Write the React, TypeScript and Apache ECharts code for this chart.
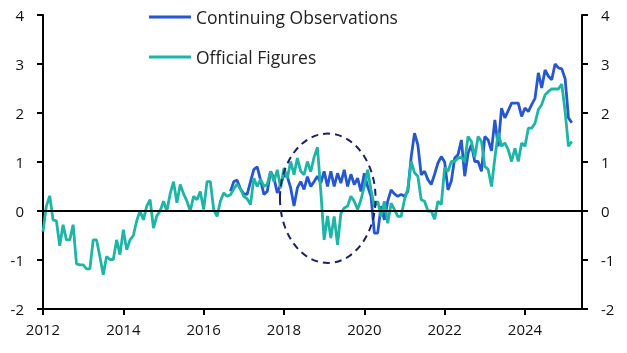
import React, { useEffect, useRef } from 'react';
import * as echarts from 'echarts';

// Monthly data, first value = Jan 2012
const startYear = 2012;

const officialFigures: number[] = [
  -0.42, 0.1, 0.31, -0.18, -0.2, -0.71, -0.28, -0.59, -0.59, -0.28,
  -1.08, -1.1, -1.1, -1.18, -1.18, -0.59, -0.59, -0.93, -1.3, -0.93,
  -0.99, -0.99, -0.59, -0.89, -0.38, -0.79, -0.59, -0.5, -0.2, 0,
  -0.18, 0.1, 0.23, -0.35, -0.1, 0, 0.2, 0, 0.35, 0.6,
  0.17, 0.54, 0.35, 0.2, 0, 0.3, 0.23, 0.4, 0.03, 0.6,
  0.6, 0.03, -0.11, 0.2, 0.37, 0.3, 0.33, 0.45, 0.55, 0.45,
  0.3, 0.25, 0.13, 0.67, 0.5, 0.65, 0.5, 0.55, 0.81, 0.6,
  0.84, 0.47, 0.88, 0.67, 1.01, 0.74, 1.08, 0.81, 0.74, 1.01,
  0.8, 1.1, 1.3, 0.4, -0.59, -0.1, -0.55, -0.11, -0.69, -0.05,
  0.06, 0.1, 0.3, 0.2, 0.03, 0.23, 0.5, 0.84, 0.43, 0.09,
  0.2, -0.11, 0.2, -0.25, 0.16, 0.03, -0.11, -0.11, 0.23, 0.45,
  1.01, 0.78, 0.71, 0.23, 0.2, 0, 0, -0.17, 0.2, 0.13,
  0.88, 0.81, 1.01, 1.01, 1.08, 1.1, 1.01, 1.52, 1.42, 1.1,
  1.52, 1.42, 0.91, 0.85, 0.5, 1.08, 1.6, 1.32, 1.39, 1.25,
  1.01, 1.28, 1.01, 1.39, 1.32, 1.69, 1.69, 1.79, 2.07, 2.17,
  2.37, 2.44, 2.49, 2.49, 2.49, 2.59, 2.03, 1.32, 1.42,
];

// Continuing observations begin in Sep 2016 (month index 56)
const continuingStartIndex = 56;
const continuingObservations: number[] = [
  0.4, 0.6, 0.63, 0.45,
  0.35, 0.34, 0.6, 0.85, 0.9, 0.63, 0.34, 0.4, 0.81, 0.67,
  0.37, 0.54, 0.74, 0.7, 0.47, 0.1, 0.47, 0.6, 0.44, 0.7,
  0.5, 0.6, 0.71, 0.57, 0.81, 0.5, 0.81, 0.5, 0.77, 0.57,
  0.84, 0.5, 0.75, 0.54, 0.67, 0.4, 0.77, 0.5, 0.3, -0.45,
  -0.45, 0.1, -0.18, 0.2, 0.43, 0.35, 0.3, 0.34, 0.3, 0.4,
  1.1, 1.59, 1.35, 0.74, 0.81, 0.64, 0.54, 0.75, 0.98, 1.11,
  1.0, 0.43, 0.61, 1.08, 1.15, 1.45, 0.71, 1.18, 1.35, 1.01,
  1.01, 0.81, 1.52, 1.45, 1.23, 1.86, 1.32, 2.1, 1.9, 2.05,
  2.2, 2.2, 2.2, 1.93, 2.1, 2.03, 2.17, 2.3, 2.82, 2.51,
  2.88, 2.75, 2.68, 3.0, 2.92, 2.9, 2.7, 1.9, 1.8,
];

const seriesNames = ['Continuing Observations', 'Official Figures'];
const xMin = 2012;
const xMax = 2025.42;
const yMin = -2;
const yMax = 4;

// Annotation ellipse in data units (centre year, centre value, half-width years, half-height value)
const ellipseCenter = [2019.09, 0.26];
const ellipseRadius = [1.19, 1.32];

const BLUE = '#2457d0';
const TEAL = '#1cb5a6';
const FONT = "'Open Sans', sans-serif";

export default function App() {
  const ref = useRef<HTMLDivElement>(null);
  useEffect(() => {
    const chart = echarts.init(ref.current!, null, { renderer: 'svg' });
    const toX = (i: number) => startYear + i / 12;
    const tealData = officialFigures.map((v, i) => [toX(i), v]);
    const blueData = continuingObservations.map((v, i) => [toX(i + continuingStartIndex), v]);
    const axisLine = { show: true, onZero: false, lineStyle: { color: '#000', width: 2 } };
    const axisTick = { show: true, length: 6, lineStyle: { color: '#000', width: 2 } };
    const yLabel = { fontSize: 15, color: '#111', fontFamily: FONT, margin: 19 };
    const legendText = { fontSize: 17.5, color: '#222', fontFamily: FONT };
    chart.setOption({
      animation: false,
      grid: { left: 43, right: 45, top: 15, bottom: 44 },
      legend: [
        {
          data: [seriesNames[0]], left: 144, top: 3, itemWidth: 42, itemHeight: 3, itemGap: 5,
          icon: 'rect', textStyle: legendText,
        },
        {
          data: [seriesNames[1]], left: 144, top: 43, itemWidth: 42, itemHeight: 3, itemGap: 5,
          icon: 'rect', textStyle: legendText,
        },
      ],
      xAxis: {
        type: 'value', min: xMin, max: xMax, interval: 2,
        axisLine, axisTick,
        splitLine: { show: false },
        axisLabel: {
          fontSize: 15, color: '#111', fontFamily: FONT, margin: 12, showMaxLabel: false,
          formatter: (v: number) => (Number.isInteger(v) && v % 2 === 0 ? String(v) : ''),
        },
      },
      yAxis: [
        { type: 'value', min: yMin, max: yMax, interval: 1, position: 'left', axisLine, axisTick, splitLine: { show: false }, axisLabel: yLabel },
        { type: 'value', min: yMin, max: yMax, interval: 1, position: 'right', axisLine, axisTick, splitLine: { show: false }, axisLabel: yLabel },
      ],
      series: [
        {
          name: seriesNames[0], type: 'line', data: blueData, showSymbol: false, symbol: 'none',
          lineStyle: { color: BLUE, width: 2.8 }, itemStyle: { color: BLUE },
        },
        {
          name: seriesNames[1], type: 'line', data: tealData, showSymbol: false, symbol: 'none',
          lineStyle: { color: TEAL, width: 2.8 }, itemStyle: { color: TEAL },
          markLine: {
            silent: true, symbol: ['none', 'none'], label: { show: false },
            lineStyle: { color: '#000', width: 2, type: 'solid' },
            data: [{ yAxis: 0 }],
          },
        },
      ],
    });
    const c = chart.convertToPixel({ xAxisIndex: 0, yAxisIndex: 0 }, ellipseCenter) as number[];
    const e = chart.convertToPixel({ xAxisIndex: 0, yAxisIndex: 0 }, [ellipseCenter[0] + ellipseRadius[0], ellipseCenter[1] + ellipseRadius[1]]) as number[];
    chart.setOption({
      graphic: [
        {
          type: 'ellipse', z: 100, silent: true,
          shape: { cx: c[0], cy: c[1], rx: Math.abs(e[0] - c[0]), ry: Math.abs(c[1] - e[1]) },
          style: { fill: 'none', stroke: '#1b1f6e', lineWidth: 2, lineDash: [7, 5] },
        },
      ],
    });
    return () => chart.dispose();
  }, []);
  return <div ref={ref} style={{ position: 'fixed', left: 0, top: 0, width: 627, height: 353 }} />;
}
